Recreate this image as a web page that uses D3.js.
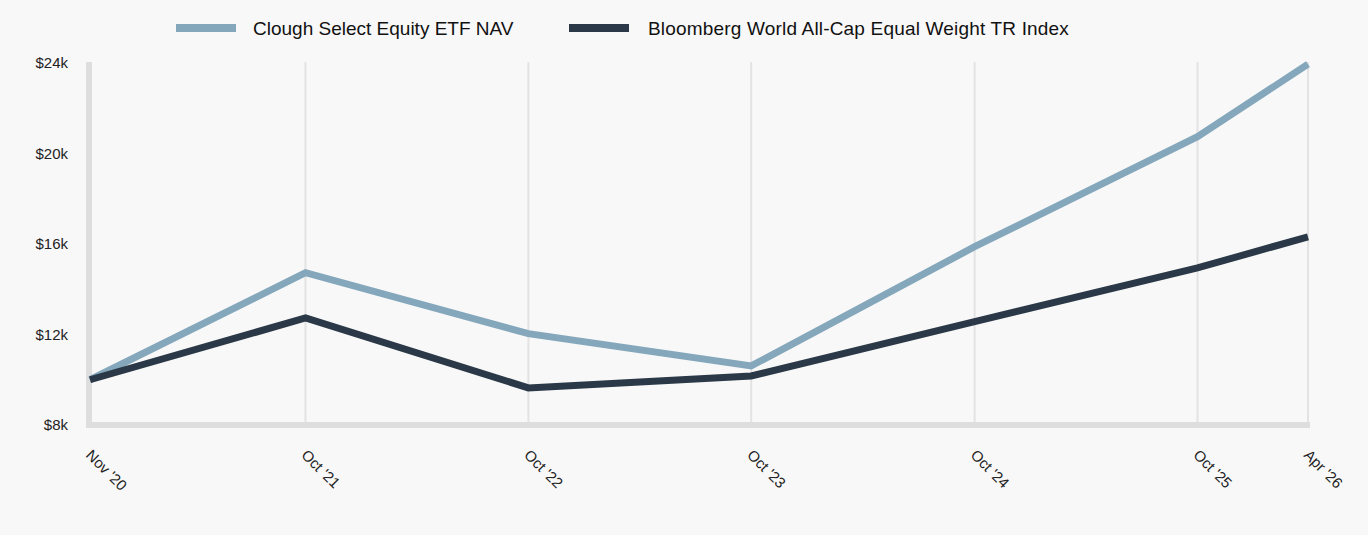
<!DOCTYPE html>
<html lang="en">
<head>
<meta charset="UTF-8">
<title>Clough Select Equity ETF growth</title>
<style>
  body {
    margin: 0;
    background: #f8f8f8;
    font-family: "Liberation Sans", Arial, sans-serif;
    overflow: hidden;
  }
  svg { display: block; }
</style>
</head>
<body>
<svg id="chart" width="1368" height="535"></svg>
<script src="https://d3js.org/d3.v7.min.js"></script>
<script>
// data
const dates = ["2020-11-12", "2021-10-31", "2022-10-31", "2023-10-31", "2024-10-31", "2025-10-31", "2026-04-30"];
const tickLabels = ["Nov '20", "Oct '21", "Oct '22", "Oct '23", "Oct '24", "Oct '25", "Apr '26"];
const cloughNav = [10000, 14730, 12040, 10610, 15880, 20740, 23950];
const bloombergIdx = [10000, 12730, 9640, 10170, 12570, 14940, 16320];
const yTicks = [8000, 12000, 16000, 20000, 24000];

const seriesNames = ["Clough Select Equity ETF NAV", "Bloomberg World All-Cap Equal Weight TR Index"];
const seriesColors = ["#84a7bb", "#2a3847"];

const parse = d3.timeParse("%Y-%m-%d");
const xDates = dates.map(parse);

const svg = d3.select("#chart");
const margin = { top: 63, right: 60, bottom: 110, left: 90 };
const width = 1368, height = 535;

const x = d3.scaleTime()
    .domain(d3.extent(xDates))
    .range([margin.left, width - margin.right]);

const y = d3.scaleLinear()
    .domain([8000, 24000])
    .range([height - margin.bottom, margin.top]);

// vertical grid lines at each date
svg.append("g")
    .selectAll("line")
    .data(xDates)
    .join("line")
    .attr("x1", d => x(d)).attr("x2", d => x(d))
    .attr("y1", y(24000) - 1).attr("y2", y(8000))
    .attr("stroke", "#e3e3e3")
    .attr("stroke-width", 2);

// axis bars
svg.append("line")
    .attr("x1", x(xDates[0]) - 1).attr("x2", x(xDates[0]) - 1)
    .attr("y1", y(24000) - 1).attr("y2", y(8000) + 3)
    .attr("stroke", "#dedede").attr("stroke-width", 6);
svg.append("line")
    .attr("x1", x(xDates[0]) - 4).attr("x2", x(xDates[xDates.length - 1]) + 2)
    .attr("y1", y(8000)).attr("y2", y(8000))
    .attr("stroke", "#dedede").attr("stroke-width", 6);

// y labels
svg.append("g")
    .selectAll("text")
    .data(yTicks)
    .join("text")
    .attr("x", 68)
    .attr("y", d => y(d))
    .attr("dy", "0.35em")
    .attr("text-anchor", "end")
    .attr("font-size", 15)
    .attr("fill", "#222")
    .text(d => "$" + (d / 1000) + "k");

// x labels
svg.append("g")
    .selectAll("text")
    .data(xDates)
    .join("text")
    .attr("transform", d => `translate(${x(d) - 5},${y(8000) + 31}) rotate(45)`)
    .attr("font-size", 15)
    .attr("fill", "#222")
    .text((d, i) => tickLabels[i]);

// lines
const line = d3.line()
    .x((d, i) => x(xDates[i]))
    .y(d => y(d));

[cloughNav, bloombergIdx].forEach((vals, i) => {
  svg.append("path")
      .datum(vals)
      .attr("d", line)
      .attr("fill", "none")
      .attr("stroke", seriesColors[i])
      .attr("stroke-width", 7);
});

// legend
const legendPos = [{ sx: 176, tx: 253 }, { sx: 569, tx: 648 }];
const legend = svg.append("g");
seriesNames.forEach((name, i) => {
  legend.append("rect")
      .attr("x", legendPos[i].sx).attr("y", 24)
      .attr("width", 60).attr("height", 8)
      .attr("fill", seriesColors[i]);
  legend.append("text")
      .attr("x", legendPos[i].tx).attr("y", 28)
      .attr("dy", "0.35em")
      .attr("font-size", 19)
      .attr("letter-spacing", i === 1 ? 0.18 : 0)
      .attr("fill", "#111")
      .text(name);
});
</script>
</body>
</html>
